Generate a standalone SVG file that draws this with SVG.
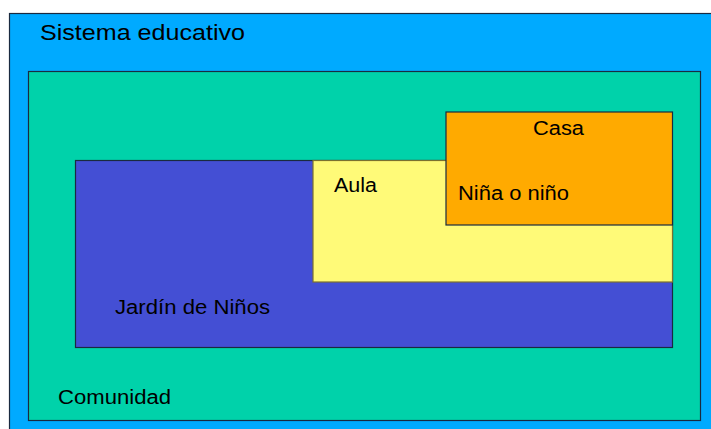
<svg xmlns="http://www.w3.org/2000/svg" width="711" height="429" viewBox="0 0 711 429">
<style>
text{font-family:"Liberation Sans",Arial,sans-serif;fill:#000;}
.b{stroke:#1a2a40;stroke-width:1.2;}
</style>
<rect width="711" height="429" fill="#fff"/>
<g id="sistema">
<rect class="b" x="9.5" y="13.5" width="710" height="425" fill="#00AAFF"/>
<text x="40" y="40" font-size="22" textLength="205" lengthAdjust="spacingAndGlyphs">Sistema educativo</text>
</g>
<g id="comunidad">
<rect class="b" x="28.5" y="71.5" width="672" height="349" fill="#00D2AA"/>
<text x="58" y="404" font-size="20" textLength="113" lengthAdjust="spacingAndGlyphs">Comunidad</text>
</g>
<g id="jardin">
<rect class="b" x="75.5" y="160.5" width="597" height="187" fill="#444FD4"/>
<text x="115" y="314" font-size="20" textLength="155" lengthAdjust="spacingAndGlyphs">Jardín de Niños</text>
</g>
<g id="aula">
<rect x="313" y="160.5" width="359.5" height="121.5" fill="#FFFA78" stroke="#7a7030" stroke-width="1.2"/>
<text x="334" y="192" font-size="20" textLength="43" lengthAdjust="spacingAndGlyphs">Aula</text>
</g>
<g id="casa">
<rect class="b" x="446" y="112" width="226.5" height="113" fill="#FFAA00" stroke="#3a2a00"/>
<text x="533" y="135" font-size="20" textLength="51" lengthAdjust="spacingAndGlyphs">Casa</text>
<text x="458" y="200" font-size="20" textLength="111" lengthAdjust="spacingAndGlyphs">Niña o niño</text>
</g>
<g id="connectors"/>
</svg>
